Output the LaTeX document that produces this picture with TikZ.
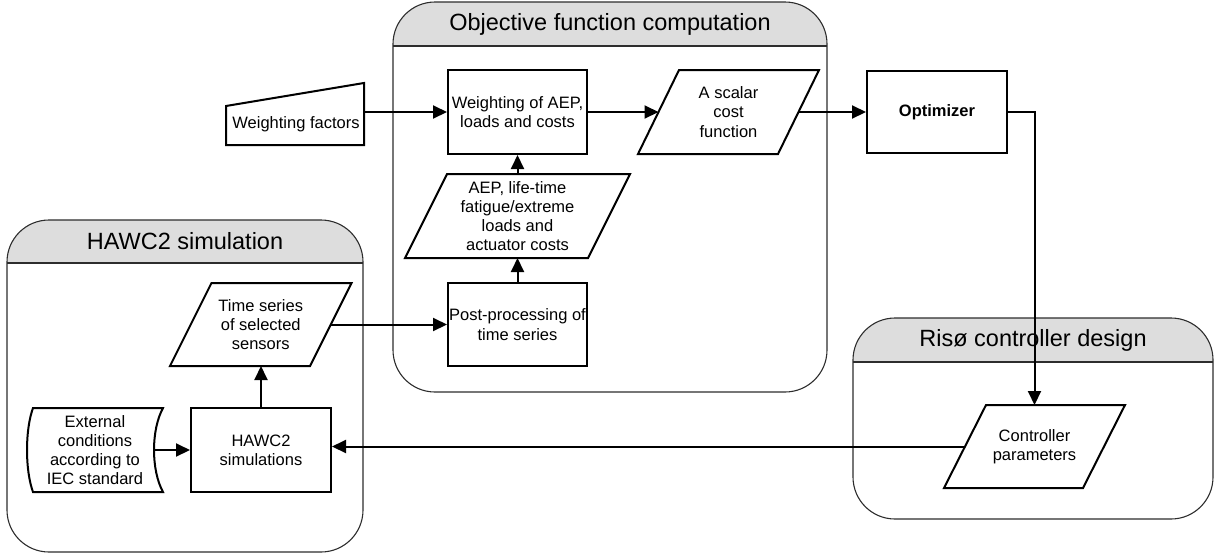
\documentclass[tikz,border=0pt]{standalone}
\usepackage{fontspec}
\setmainfont{Liberation Sans}
\usetikzlibrary{arrows.meta,calc}
\definecolor{hdr}{RGB}{221,221,221}
\definecolor{pline}{RGB}{45,45,45}
\tikzset{
  blk/.style={draw=black, line width=2pt, fill=white},
  txt/.style={font=\fontsize{16.5}{19.2}\selectfont, align=center, inner sep=0pt},
  conn/.style={line width=2pt, -{Triangle[length=14pt,width=13pt]}},
  wire/.style={line width=2pt},
  panel/.style={draw=pline, line width=1.1pt},
  ttl/.style={font=\fontsize{23.5}{28}\selectfont, inner sep=0pt}
}
% panel: x1 y1 x2 y2 yheader
\newcommand\mypanel[5]{%
  \begin{scope}
    \clip (#1,#2) rectangle (#3,#5);
    \fill[hdr, rounded corners=42pt] (#1,#2) rectangle (#3,#4);
  \end{scope}
  \draw[panel, rounded corners=42pt] (#1,#2) rectangle (#3,#4);
  \draw[panel] (#1,#5) -- (#3,#5);
}
% parallelogram: name, x of bottom-left, y bottom, y top, width, skew, text
\newcommand\mypara[7]{%
  \coordinate (#1-bl) at (#2,#3);
  \coordinate (#1-tl) at (#2+#6,#4);
  \coordinate (#1-tr) at (#2+#6+#5,#4);
  \coordinate (#1-br) at (#2+#5,#3);
  \draw[blk, line join=miter] (#1-bl) -- (#1-tl) -- (#1-tr) -- (#1-br) -- cycle;
  \coordinate (#1-w) at ($(#1-bl)!0.5!(#1-tl)$);
  \coordinate (#1-e) at ($(#1-br)!0.5!(#1-tr)$);
  \node[txt] (#1) at ($(#1-bl)!0.5!(#1-tr)$) {#7};
}
\begin{document}
\begin{tikzpicture}[x=1pt,y=-1pt]
\useasboundingbox (0,0) rectangle (1221,558);

% panels
\mypanel{393}{2}{827}{392}{46}
\node[ttl] (t-obj) at (610,24) {Objective function computation};
\mypanel{7}{220}{363}{552}{263}
\node[ttl] (t-hawc) at (185,241.5) {HAWC2 simulation};
\mypanel{853}{318}{1213}{519}{362}
\node[ttl] (t-riso) at (1033,340) {Risø controller design};

% rectangles
\node[blk, txt, minimum width=139pt, minimum height=84pt] (wgt) at (517.5,112) {Weighting of AEP,\\ loads and costs};
\node[blk, txt, minimum width=139pt, minimum height=83pt] (post) at (517.5,324.5) {Post-processing of\\time series};
\node[blk, txt, minimum width=140pt, minimum height=82pt] (opt) at (937,112) {\bfseries Optimizer};
\node[blk, txt, minimum width=140pt, minimum height=84pt] (hawc) at (261,450) {HAWC2\\simulations};

% parallelograms
\mypara{scalar}{638}{154}{70}{140}{41}{A scalar\\cost\\function}
\mypara{aep}{405}{258}{174}{183}{42}{AEP, life-time\\fatigue/extreme\\loads and\\actuator costs}
\mypara{times}{170}{366}{283}{140}{41.5}{Time series\\of selected\\sensors}
\mypara{ctrl}{944}{488}{405}{139}{42}{Controller\\parameters}

% manual input: weighting factors
\coordinate (wf-bl) at (226,145);
\coordinate (wf-br) at (364,145);
\draw[blk, line join=miter] (wf-bl) -- (226,106) -- (364,83) -- (wf-br) -- cycle;
\node[txt] (wf) at (296,124) {Weighting factors};

% stored data: external conditions
\draw[blk] (33,408) -- (163,408) .. controls (151,430) and (151,470) .. (163,492)
  -- (33,492) .. controls (25,470) and (25,430) .. (33,408) -- cycle;
\node[txt] (ext) at (95,450) {External\\conditions\\according to\\IEC standard};
\coordinate (ext-e) at (154,450);

% connectors
\draw[conn] (wgt.west -| wf-br) -- (wgt.west);
\draw[conn] (wgt.east) -- (scalar-w);
\draw[conn] (scalar-e) -- (opt.west);
\draw[conn] (aep.center |- aep-tl) -- (wgt.south);
\draw[conn] (post.north) -- (post.north |- aep-bl);
\draw[conn] (times-e) -- (times-e -| post.west);
\draw[conn] (hawc.north) -- (hawc.north |- times-bl);
\draw[conn] (ext-e) -- (hawc.west);
\draw[conn] (opt.east) -| (ctrl.center |- ctrl-tl);
\draw[conn] (ctrl-w) -- (ctrl-w -| hawc.east);
\end{tikzpicture}
\end{document}
